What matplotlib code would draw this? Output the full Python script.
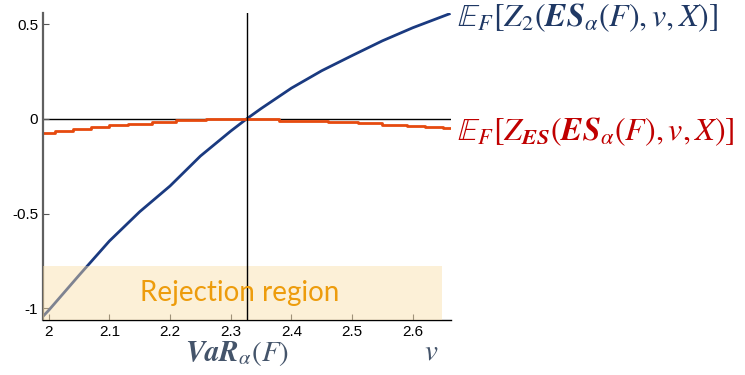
import matplotlib.pyplot as plt

plt.rcParams['mathtext.fontset'] = 'stix'

# Wartości
v_z2 = [1.99, 2.00, 2.05, 2.10, 2.15, 2.20, 2.25, 2.30, 2.326, 2.35, 2.40, 2.45, 2.50, 2.55, 2.60, 2.66]
z2 = [-1.045, -1.011, -0.826, -0.645, -0.49, -0.354, -0.196, -0.064, 0.0, 0.055, 0.163, 0.255, 0.335, 0.413, 0.482, 0.555]

v_zes = [1.99, 2.01, 2.04, 2.07, 2.10, 2.13, 2.17, 2.21, 2.26, 2.38, 2.46, 2.51, 2.55, 2.59, 2.62, 2.65, 2.663]
zes = [-0.072, -0.063, -0.052, -0.042, -0.033, -0.024, -0.015, -0.008, 0.0, -0.009, -0.016, -0.023, -0.030, -0.037, -0.041, -0.048, -0.048]

var_alpha = 2.326
reject_top = -0.777
reject_right = 2.648

xticks = [2, 2.1, 2.2, 2.3, 2.4, 2.5, 2.6]
xtick_labels = ['2', '2.1', '2.2', '2.3', '2.4', '2.5', '2.6']
yticks = [-1, -0.5, 0, 0.5]
ytick_labels = ['-1', '-0.5', '0', '0.5']

blue = '#1a3a80'
red = '#e64a0e'

fig = plt.figure(figsize=(7.45, 3.75), dpi=100)
ax = fig.add_axes([0.0577, 0.1467, 0.5477, 0.8187])

ax.plot(v_z2, z2, color=blue, lw=2, zorder=2)
ax.step(v_zes, zes, where='post', color=red, lw=2, zorder=2)

ax.axhline(0, color='black', lw=1, zorder=1)
ax.axvline(var_alpha, color='black', lw=1, zorder=4)

# Obszar odrzucenia
ax.fill_between([1.9906, reject_right], -1.062, reject_top,
                color=(250/255, 222/255, 167/255), alpha=0.45, lw=0, zorder=3)
ax.text(2.315, -0.92, 'Rejection region', color='#ed9c0c', fontsize=20,
        family='Lato', ha='center', va='center', zorder=5)

ax.set_xlim(1.9906, 2.663)
ax.set_ylim(-1.062, 0.56)
ax.set_xticks(xticks)
ax.set_xticklabels(xtick_labels)
ax.set_yticks(yticks)
ax.set_yticklabels(ytick_labels)
ax.tick_params(direction='in', length=4, color='#555555', labelsize=11)
for lab in ax.get_xticklabels() + ax.get_yticklabels():
    lab.set_family('Liberation Sans')

for s in ['top', 'right']:
    ax.spines[s].set_visible(False)
ax.spines['left'].set_color('#606060')
ax.spines['left'].set_linewidth(1.6)
ax.spines['bottom'].set_color('black')
ax.spines['bottom'].set_linewidth(1)

# Podpisy krzywych i osi
fig.text(0.614, 0.952, r'$\mathbb{E}_F[Z_2(\mathbfit{ES}_\alpha(F),v,X)]$',
         color='#1f3864', fontsize=23, ha='left', va='center')
fig.text(0.614, 0.650, r'$\mathbb{E}_F[Z_{\mathbfit{ES}}(\mathbfit{ES}_\alpha(F),v,X)]$',
         color='#c00000', fontsize=23, ha='left', va='center')
fig.text(0.318, 0.058, r'$\mathbfit{VaR}_\alpha(F)$', color='#44546a',
         fontsize=21, ha='center', va='center')
fig.text(0.579, 0.062, r'$v$', color='#44546a', fontsize=21,
         ha='center', va='center')

fig.savefig('out.png', dpi=100)
